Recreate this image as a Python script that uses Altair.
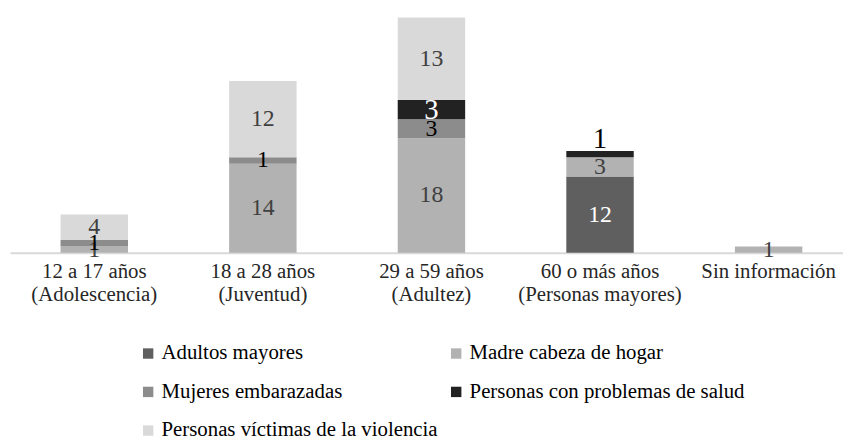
import altair as alt
import pandas as pd

grupos = [
    "12 a 17 años\n(Adolescencia)",
    "18 a 28 años\n(Juventud)",
    "29 a 59 años\n(Adultez)",
    "60 o más años\n(Personas mayores)",
    "Sin información",
]
series = [
    "Adultos mayores",
    "Madre cabeza de hogar",
    "Mujeres embarazadas",
    "Personas con problemas de salud",
    "Personas víctimas de la violencia",
]
adultos_mayores = [0, 0, 0, 12, 0]
madre_cabeza = [1, 14, 18, 3, 1]
mujeres_embarazadas = [1, 1, 3, 0, 0]
problemas_salud = [0, 0, 3, 1, 0]
victimas_violencia = [4, 12, 13, 0, 0]

colores = ["#5f5f5f", "#b2b2b2", "#8c8c8c", "#222222", "#d9d9d9"]

valores = [adultos_mayores, madre_cabeza, mujeres_embarazadas, problemas_salud, victimas_violencia]
rows = []
for si, (s, vals) in enumerate(zip(series, valores)):
    for g, v in zip(grupos, vals):
        if v > 0:
            rows.append({"grupo": g, "serie": s, "valor": v, "orden": si})
df = pd.DataFrame(rows)

FONT = "Liberation Serif, Times New Roman, serif"

base = alt.Chart(df).transform_stack(
    stack="valor", groupby=["grupo"], sort=[alt.SortField("orden")], as_=["v0", "v1"]
).transform_calculate(mid="(datum.v0 + datum.v1) / 2")

x_scale = alt.Scale(paddingInner=0.6, paddingOuter=0.3, range=[0, 851])
x_enc = alt.X(
    "grupo:N",
    sort=grupos,
    title=None,
    scale=x_scale,
    axis=alt.Axis(
        labelAngle=0,
        labelExpr="split(datum.label, '\\n')",
        labelFont=FONT,
        labelFontSize=21,
        labelColor="#262626",
        labelPadding=8,
        labelLineHeight=23,
        ticks=False,
        domainColor="#d9d9d9",
        domainWidth=2,
        grid=False,
        labelLimit=300,
    ),
)
y_scale = alt.Scale(domain=[0, 38], nice=False)

bars = base.mark_bar().encode(
    x=x_enc,
    y=alt.Y("v0:Q", scale=y_scale, axis=None),
    y2="v1:Q",
    color=alt.Color(
        "serie:N",
        scale=alt.Scale(domain=series, range=colores),
        legend=alt.Legend(
            title=None,
            orient="none",
            direction="horizontal",
            legendX=129,
            legendY=335,
            columns=2,
            columnPadding=8,
            rowPadding=17,
            symbolType="square",
            symbolSize=110,
            symbolStrokeWidth=0,
            labelFont=FONT,
            labelFontSize=21,
            labelColor="#000000",
            labelLimit=400,
            labelOffset=3,
        ),
    ),
)

SALUD = "Personas con problemas de salud"

labels = base.transform_filter(
    f"!(datum.serie === '{SALUD}' && datum.grupo === '60 o más años\\n(Personas mayores)')"
).mark_text(font=FONT, baseline="middle", align="center").encode(
    x=alt.X("grupo:N", sort=grupos, scale=x_scale),
    y=alt.Y("mid:Q", scale=y_scale),
    text="valor:Q",
    color=alt.value(
        "#404040",
        condition=[
            {"test": "datum.serie === 'Adultos mayores'", "value": "#ffffff"},
            {"test": f"datum.serie === '{SALUD}'", "value": "#ffffff"},
            {"test": "datum.serie === 'Mujeres embarazadas'", "value": "#000000"},
        ],
    ),
    size=alt.value(
        24,
        condition=[{"test": f"datum.serie === '{SALUD}'", "value": 29}],
    ),
)

label_60 = base.transform_filter(
    f"datum.serie === '{SALUD}' && datum.grupo === '60 o más años\\n(Personas mayores)'"
).mark_text(font=FONT, baseline="alphabetic", align="center", dy=-3, fontSize=29, color="#000000").encode(
    x=alt.X("grupo:N", sort=grupos, scale=x_scale),
    y=alt.Y("v1:Q", scale=y_scale),
    text="valor:Q",
)

chart = alt.layer(bars, labels, label_60).properties(
    width=841,
    height=244,
    autosize=alt.AutoSizeParams(type="none"),
    padding={"left": 2, "top": 1, "right": 0, "bottom": 192},
).configure_view(stroke=None)

chart.save("out.html", embed_options={"renderer": "svg", "actions": False})
